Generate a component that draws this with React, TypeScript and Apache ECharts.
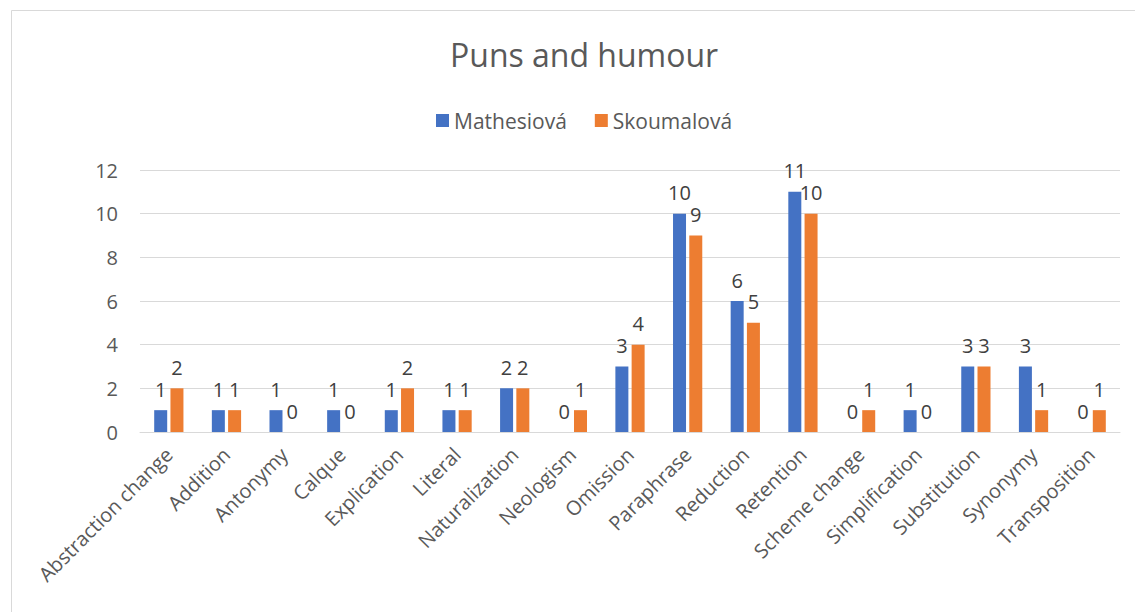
import React, { useEffect, useRef } from "react";
import * as echarts from "echarts";

const categories = [
  "Abstraction change",
  "Addition",
  "Antonymy",
  "Calque",
  "Explication",
  "Literal",
  "Naturalization",
  "Neologism",
  "Omission",
  "Paraphrase",
  "Reduction",
  "Retention",
  "Scheme change",
  "Simplification",
  "Substitution",
  "Synonymy",
  "Transposition",
];
const mathesiova = [1, 1, 1, 1, 1, 1, 2, 0, 3, 10, 6, 11, 0, 1, 3, 3, 0];
const skoumalova = [2, 1, 0, 0, 2, 1, 2, 1, 4, 9, 5, 10, 1, 0, 3, 1, 1];
const seriesNames = ["Mathesiová", "Skoumalová"];
const chartTitle = "Puns and humour";

const FONT = "'Open Sans', 'Noto Sans', sans-serif";

export default function App() {
  const ref = useRef<HTMLDivElement>(null);
  useEffect(() => {
    if (!ref.current) return;
    const chart = echarts.init(ref.current, null, { renderer: "svg" });
    const labelCfg = {
      show: true,
      position: "top",
      distance: 11,
      color: "#404040",
      fontSize: 20,
      fontFamily: FONT,
    };
    chart.setOption({
      animation: false,
      backgroundColor: "#ffffff",
      textStyle: { fontFamily: FONT },
      title: {
        text: chartTitle,
        left: 445,
        top: 33,
        textStyle: { fontSize: 32, fontWeight: "normal", color: "#595959", fontFamily: FONT },
      },
      legend: {
        data: seriesNames,
        top: 105,
        left: 431,
        itemWidth: 13,
        itemHeight: 13,
        itemGap: 28,
        icon: "rect",
        textStyle: { fontSize: 21, color: "#595959", fontFamily: FONT },
      },
      graphic: [
        {
          type: "rect",
          shape: { x: 11.5, y: 10.5, width: 1140, height: 620 },
          style: { fill: "none", stroke: "#D9D9D9", lineWidth: 1 },
          silent: true,
        },
      ],
      grid: { left: 140, right: 15, top: 170, bottom: 180, containLabel: false },
      xAxis: {
        type: "category",
        data: categories,
        axisLine: { lineStyle: { color: "#D9D9D9", width: 1 } },
        axisTick: { show: false },
        axisLabel: {
          rotate: 45,
          interval: 0,
          margin: 19,
          fontSize: 20,
          color: "#595959",
          fontFamily: FONT,
        },
      },
      yAxis: {
        type: "value",
        min: 0,
        max: 12,
        interval: 2,
        axisLine: { show: false },
        axisTick: { show: false },
        axisLabel: { fontSize: 20, color: "#595959", margin: 22, fontFamily: FONT },
        splitLine: { lineStyle: { color: "#D9D9D9", width: 1 } },
      },
      series: [
        {
          name: seriesNames[0],
          type: "bar",
          data: mathesiova,
          barWidth: 13,
          barGap: "25%",
          itemStyle: { color: "#4472C4" },
          label: labelCfg,
        },
        {
          name: seriesNames[1],
          type: "bar",
          data: skoumalova,
          barWidth: 13,
          itemStyle: { color: "#ED7D31" },
          label: labelCfg,
        },
      ],
    });
    return () => chart.dispose();
  }, []);
  return (
    <div
      ref={ref}
      style={{ position: "fixed", left: 0, top: 0, width: 1135, height: 612 }}
    />
  );
}
